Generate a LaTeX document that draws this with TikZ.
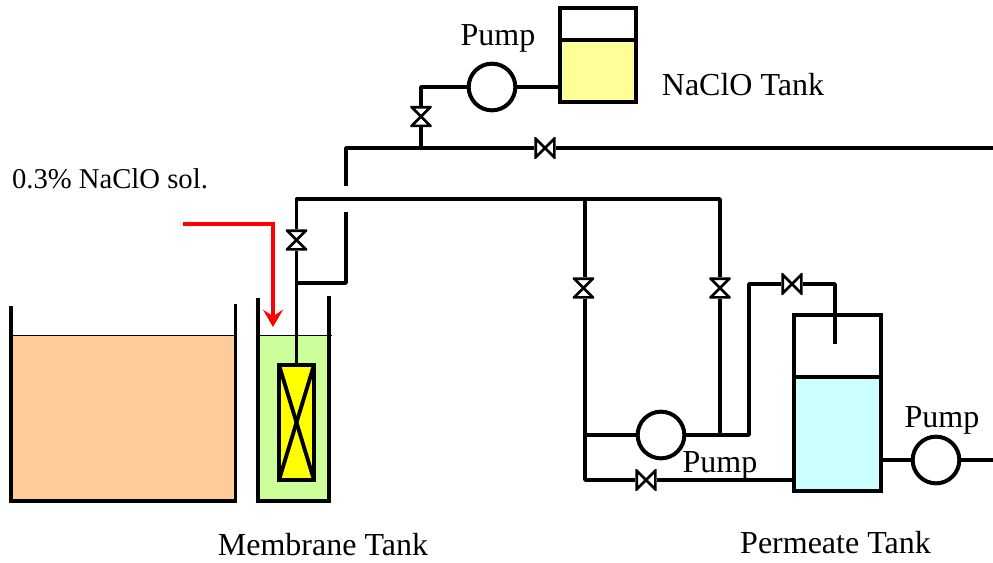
\documentclass[tikz,border=0pt]{standalone}
\usepackage{fontspec}
\setmainfont{Liberation Serif}
\usetikzlibrary{arrows.meta}
\definecolor{FeedOrange}{HTML}{FFCC99}
\definecolor{MembraneGreen}{HTML}{CCFF99}
\definecolor{ModuleYellow}{HTML}{FFFF00}
\definecolor{NaClOYellow}{HTML}{FFFF99}
\definecolor{PermeateCyan}{HTML}{CCFFFF}
\tikzset{
  pipe/.style={line width=2.7pt,line join=round},
  wall/.style={line width=2.9pt,line join=miter},
  lvl/.style={line width=1.1pt},
  pump/.style={circle,draw,line width=3pt,fill=white,minimum size=35pt,inner sep=0pt},
  tankbox/.style={rectangle,draw,line width=3pt,inner sep=0pt,outer sep=0pt},
  label/.style={font=\fontsize{24}{28}\selectfont,inner sep=0pt},
  valve/.style={rectangle,fill=white,minimum size=16pt,inner sep=0pt,outer sep=0pt},
  valveV/.style={valve,path picture={
    \draw[line width=2pt,fill=white,line join=miter]
      ([shift={(-7pt,-7pt)}]path picture bounding box.center) --
      ([shift={(7pt,7pt)}]path picture bounding box.center) --
      ([shift={(-7pt,7pt)}]path picture bounding box.center) --
      ([shift={(7pt,-7pt)}]path picture bounding box.center) -- cycle;}},
  valveH/.style={valve,path picture={
    \draw[line width=2pt,fill=white,line join=miter]
      ([shift={(-7pt,-7pt)}]path picture bounding box.center) --
      ([shift={(7pt,7pt)}]path picture bounding box.center) --
      ([shift={(7pt,-7pt)}]path picture bounding box.center) --
      ([shift={(-7pt,7pt)}]path picture bounding box.center) -- cycle;}},
  modulebox/.style={tankbox,line width=3.4pt,fill=ModuleYellow,path picture={
    \draw[line width=2.9pt] (path picture bounding box.north west) --
      (path picture bounding box.south east);
    \draw[line width=2.9pt] (path picture bounding box.north east) --
      (path picture bounding box.south west);}},
}
\begin{document}
\begin{tikzpicture}[x=0.75pt,y=-0.75pt]
        \useasboundingbox (0,0) rectangle (993,562);
        % open tanks
        \fill[FeedOrange] (11,335.5) rectangle (235.5,501);
        \fill[MembraneGreen] (258,335.5) rectangle (331,501);
        \draw[lvl] (11,335.5) -- (235.5,335.5);
        \draw[lvl] (258,335.5) -- (332,335.5);
        \draw[wall] (11,306) -- (11,501) -- (235.5,501) -- (235.5,304);
        \draw[wall] (258,298) -- (258,501) -- (329,501) -- (329,296);
        % module
        \node[modulebox,minimum width=26.25pt,minimum height=86.25pt]
              (module) at (296.5,422.5) {};
        % closed tanks
        \node[tankbox,fill=NaClOYellow,minimum width=57pt,minimum height=46.5pt]
              (naclo) at (598,71) {};
        \node[tankbox,minimum width=57pt,minimum height=24pt]
              (nacloHead) at (598,24) {};
        \node[tankbox,fill=PermeateCyan,minimum width=65.25pt,minimum height=85.5pt]
              (permeate) at (837.5,434) {};
        \node[tankbox,minimum width=65.25pt,minimum height=46.5pt]
              (permeateHead) at (837.5,346) {};
        % pumps
        \node[pump] (pumpA) at (492,87) {};
        \node[pump] (pumpB) at (661,435) {};
        \node[pump] (pumpC) at (936,460) {};
        % valves
        \node[valveV] (valveA) at (421,116.5) {};
        \node[valveH] (valveB) at (545,148) {};
        \node[valveV] (valveC) at (296.5,240) {};
        \node[valveV] (valveD) at (583.5,288) {};
        \node[valveV] (valveE) at (720,288) {};
        \node[valveH] (valveF) at (792,284) {};
        \node[valveH] (valveG) at (646,480) {};
        % junctions and free ends
        \coordinate (mainEnd) at (993,148);
        \coordinate (riserTop) at (346,148);
        \coordinate (riserGapA) at (346,186);
        \coordinate (riserGapB) at (346,212);
        \coordinate (riserBase) at (346,283);
        \coordinate (teeMain) at (421,148);
        \coordinate (teeModule) at (296.5,283);
        \coordinate (hdrL) at (296.5,199);
        \coordinate (hdrM) at (585,199);
        \coordinate (hdrR) at (720,199);
        \coordinate (teeM) at (585,435);
        \coordinate (teeR) at (720,435);
        \coordinate (cornerA) at (749,435);
        \coordinate (cornerB) at (749,284);
        \coordinate (cornerC) at (835,284);
        \coordinate (dropEnd) at (835,344);
        \coordinate (cornerD) at (585,480);
        \coordinate (outEnd) at (993,460);
        \coordinate (solStart) at (183,224);
        \coordinate (solEnd) at (273,327);
        % NaClO line
        \draw[pipe] (naclo.west |- pumpA) -- (pumpA);
        \draw[pipe] (pumpA) -| (valveA.north);
        \draw[pipe] (valveA.south) -- (teeMain);
        % upper line
        \draw[pipe] (riserGapA) -- (riserTop) -- (valveB.west);
        \draw[pipe] (valveB.east) -- (mainEnd);
        \draw[pipe] (riserGapB) -- (riserBase) -- (teeModule);
        % module line
        \draw[pipe] (module.north) -- (valveC.south);
        \draw[pipe] (valveC.north) -- (hdrL) -- (hdrR) -- (valveE.north);
        % back lines
        \draw[pipe] (hdrM) -- (hdrM |- valveD.north);
        \draw[pipe] (hdrM |- valveD.south) -- (cornerD) -- (valveG.west);
        \draw[pipe] (valveG.east) -- (permeate.west |- valveG);
        \draw[pipe] (teeM) -- (pumpB);
        \draw[pipe] (pumpB) -- (cornerA) -- (cornerB) -- (valveF.west);
        \draw[pipe] (valveE.south) -- (teeR);
        \draw[pipe] (valveF.east) -- (cornerC) -- (dropEnd);
        % outlet
        \draw[pipe] (permeate.east |- pumpC) -- (pumpC);
        \draw[pipe] (pumpC) -- (outEnd);
        % dosing
        \draw[red,line width=2.6pt,-{Stealth[length=13pt,width=15pt,inset=5pt]}]
              (solStart) -| (solEnd);
        % labels
        \node[label] (pumpAlabel) at (498,38) {Pump};
        \node[label] (pumpBlabel) at (720,465) {Pump};
        \node[label] (pumpClabel) at (942,420) {Pump};
        \node[label] (nacloLabel) at (743,85) {NaClO Tank};
        \node[label,font=\fontsize{21.5}{26}\selectfont] (solLabel) at (110,179) {0.3\% NaClO sol.};
        \node[label] (membraneLabel) at (323,545) {Membrane Tank};
        \node[label] (permeateLabel) at (835.5,543) {Permeate Tank};
\end{tikzpicture}
\end{document}
